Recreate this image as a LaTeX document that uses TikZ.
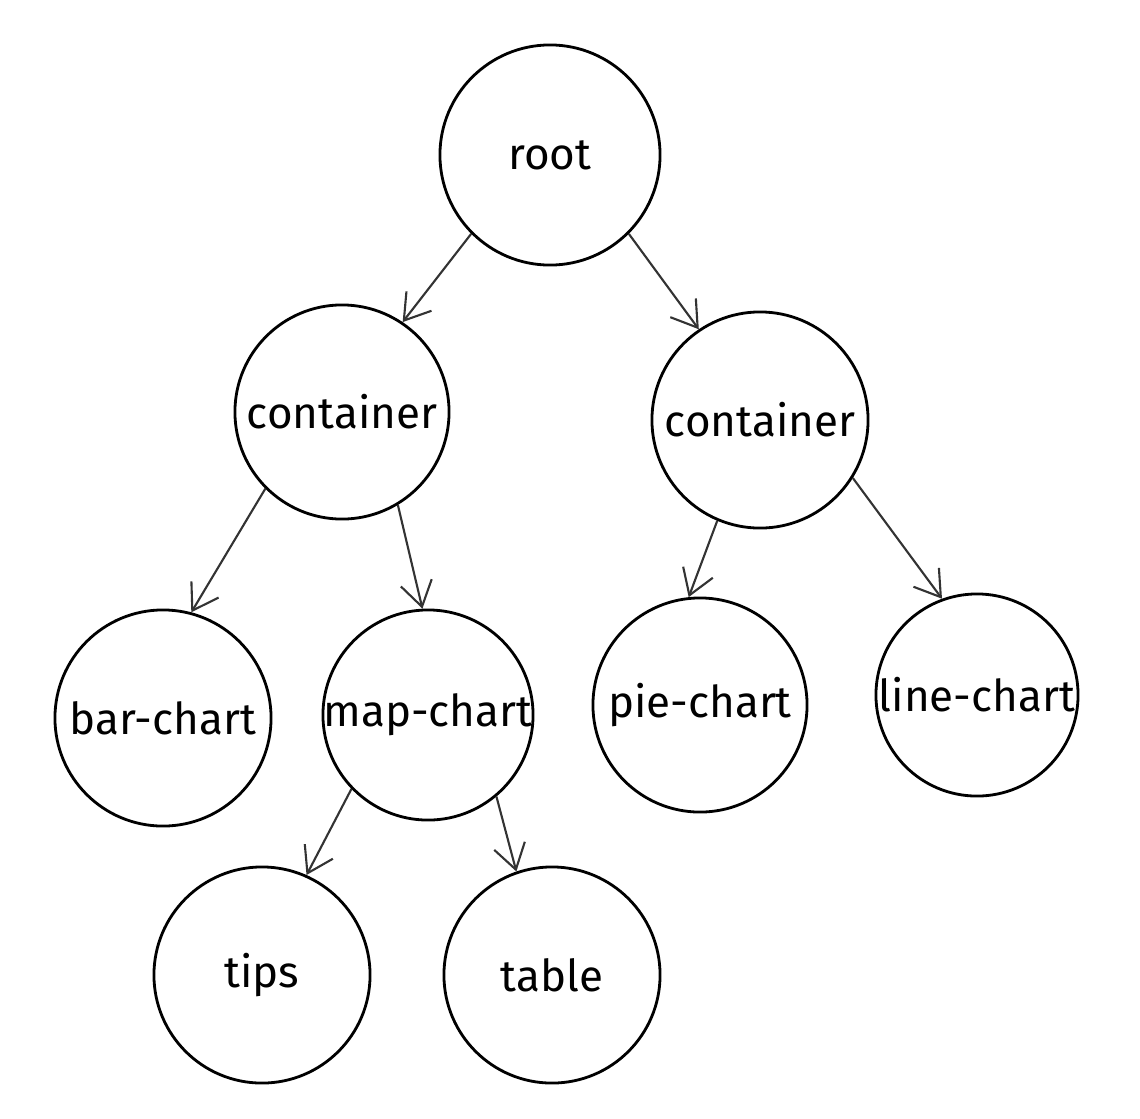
\documentclass[tikz,border=0pt]{standalone}
\usepackage{fontspec}
\setmainfont{Fira Sans}
\usetikzlibrary{arrows.meta}

\begin{document}
\begin{tikzpicture}[x=0.01cm, y=0.01cm,
    bubble/.style={draw, circle, line width=0.8pt, inner sep=0pt},
    every label/.style={inner sep=0pt, font=\fontsize{12.5}{15}\selectfont},
    edge/.style={-{Straight Barb[length=7pt, width=9pt]}, line width=0.6pt,
      black!80}]

  % Moldura (pixels da referência, y para baixo)
  \useasboundingbox (0,0) rectangle (1140,-1118);

  % Nível 0
  \node[bubble, minimum size=2.20cm, label=center:root] (root) at (550,-155) {};

  % Nível 1
  \node[bubble, minimum size=2.14cm, label=center:container] (contL) at (342,-412) {};
  \node[bubble, minimum size=2.16cm, label=center:container] (contR) at (760,-420) {};

  % Nível 2
  \node[bubble, minimum size=2.16cm, label=center:bar-chart]  (bar)  at (163,-718) {};
  \node[bubble, minimum size=2.10cm, label=center:map-chart]  (map)  at (428,-715) {};
  \node[bubble, minimum size=2.14cm, label=center:pie-chart]  (pie)  at (700,-705) {};
  \node[bubble, minimum size=2.02cm, label=center:line-chart] (line) at (977,-695) {};

  % Nível 3
  \node[bubble, minimum size=2.16cm, label=center:tips]  (tips)  at (262,-975) {};
  \node[bubble, minimum size=2.16cm, label=center:table] (table) at (552,-975) {};

  % Setas
  \draw[edge] (root.-135) -- (contL.56);
  \draw[edge] (root.-45)  -- (contR.124);
  \draw[edge] (contL.-135) -- (bar.75);
  \draw[edge] (contL.-59)  -- (map.93);
  \draw[edge] (contR.-113) -- (pie.96);
  \draw[edge] (contR.-32)  -- (line.110);
  \draw[edge] (map.-136) -- (tips.66);
  \draw[edge] (map.-50)  -- (table.109);

\end{tikzpicture}
\end{document}
